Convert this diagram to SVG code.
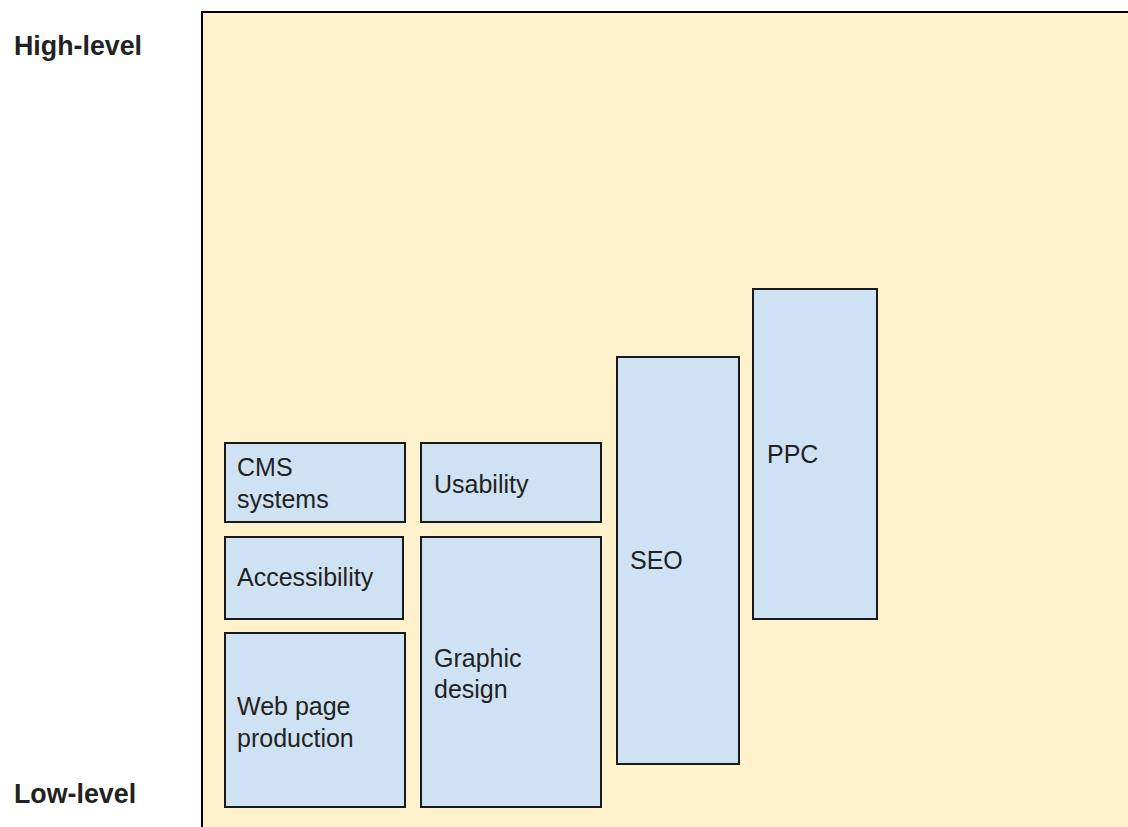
<svg xmlns="http://www.w3.org/2000/svg" width="1128" height="827" viewBox="0 0 1128 827">
<style>
.bg{fill:#fff2cc;stroke:#000;stroke-width:2}
.box{fill:#cfe2f3;stroke:#1a1a1a;stroke-width:2}
.t{font-family:"Liberation Sans",Arial,sans-serif;font-size:25px;fill:#222}
.lbl{font-family:"Liberation Sans",Arial,sans-serif;font-size:26.8px;font-weight:bold;fill:#222}
</style>
<rect width="1128" height="827" fill="#fff"/>
<g id="frame"><rect class="bg" x="202" y="12" width="1000" height="900"/></g>
<g id="label-high"><text class="lbl" x="14" y="55">High-level</text></g>
<g id="label-low"><text class="lbl" x="14" y="803">Low-level</text></g>
<g id="cms"><rect class="box" x="225" y="443" width="180" height="79"/><text class="t" x="237" y="476">CMS</text><text class="t" x="237" y="508">systems</text></g>
<g id="accessibility"><rect class="box" x="225" y="537" width="178" height="82"/><text class="t" x="237" y="586">Accessibility</text></g>
<g id="webpage"><rect class="box" x="225" y="633" width="180" height="174"/><text class="t" x="237" y="715">Web page</text><text class="t" x="237" y="747">production</text></g>
<g id="usability"><rect class="box" x="421" y="443" width="180" height="79"/><text class="t" x="434" y="493">Usability</text></g>
<g id="graphic"><rect class="box" x="421" y="537" width="180" height="270"/><text class="t" x="434" y="667">Graphic</text><text class="t" x="434" y="698">design</text></g>
<g id="seo"><rect class="box" x="617" y="357" width="122" height="407"/><text class="t" x="630" y="569">SEO</text></g>
<g id="ppc"><rect class="box" x="753" y="289" width="124" height="330"/><text class="t" x="767" y="463">PPC</text></g>
<g id="connectors"/>
</svg>
